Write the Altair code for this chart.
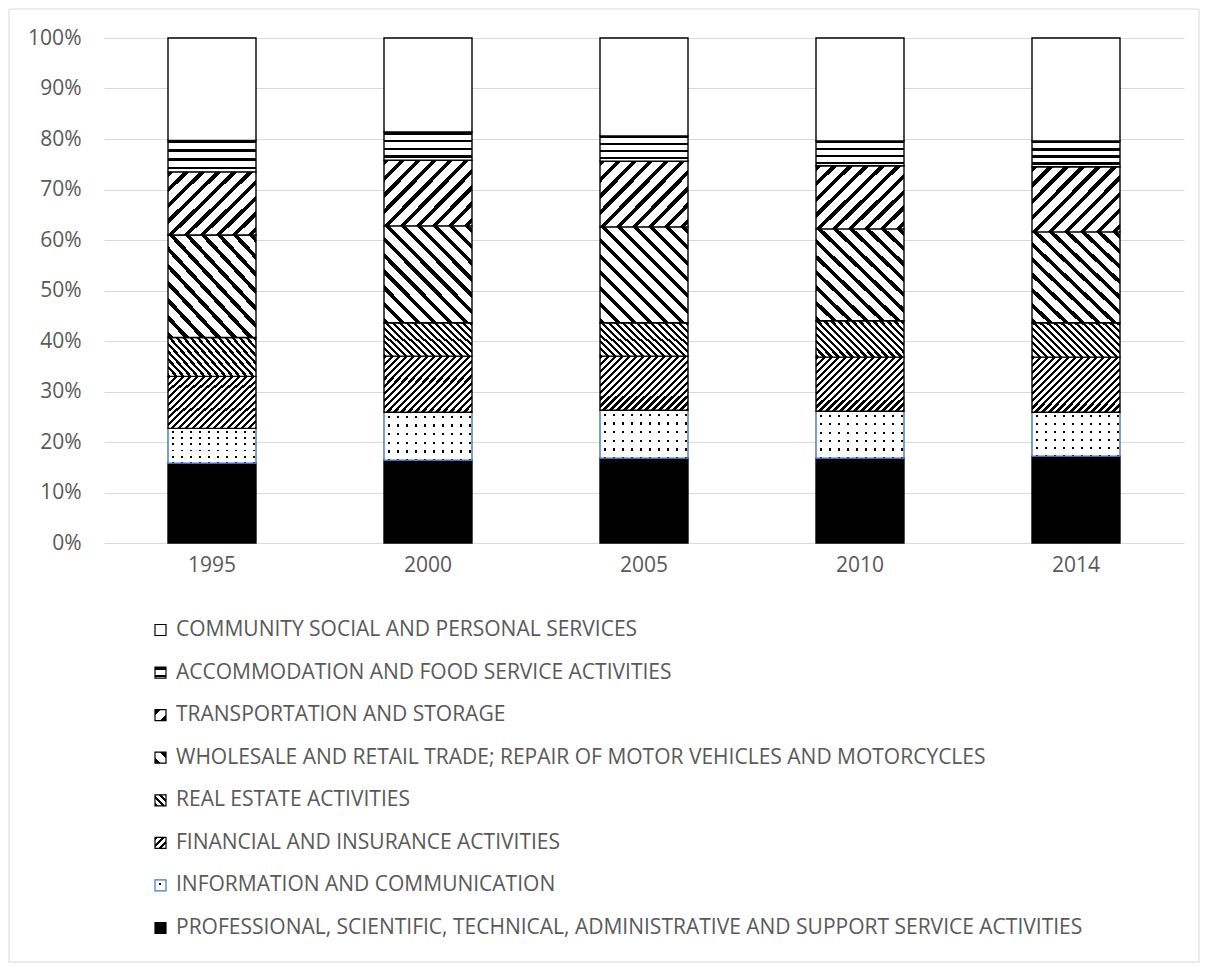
import altair as alt
import pandas as pd

# ---------------- data ----------------
years = ["1995", "2000", "2005", "2010", "2014"]
categories = [
    "PROFESSIONAL, SCIENTIFIC, TECHNICAL, ADMINISTRATIVE AND SUPPORT SERVICE ACTIVITIES",
    "INFORMATION AND COMMUNICATION",
    "FINANCIAL AND INSURANCE ACTIVITIES",
    "REAL ESTATE ACTIVITIES",
    "WHOLESALE AND RETAIL TRADE; REPAIR OF MOTOR VEHICLES AND MOTORCYCLES",
    "TRANSPORTATION AND STORAGE",
    "ACCOMMODATION AND FOOD SERVICE ACTIVITIES",
    "COMMUNITY SOCIAL AND PERSONAL SERVICES",
]
professional = [15.8, 16.4, 16.8, 16.8, 17.2]
information = [6.9, 9.5, 9.5, 9.3, 8.7]
financial = [10.3, 11.1, 10.7, 10.7, 10.9]
real_estate = [7.7, 6.6, 6.6, 7.2, 6.8]
wholesale = [20.3, 19.2, 19.0, 18.2, 18.0]
transport = [12.5, 13.0, 13.0, 12.5, 12.9]
accommodation = [6.2, 5.6, 5.0, 4.9, 5.1]
community = [20.3, 18.6, 19.4, 20.4, 20.4]
series = [professional, information, financial, real_estate,
          wholesale, transport, accommodation, community]
y_ticks = [i / 10 for i in range(11)]

rows = []
for order, (cat, vals) in enumerate(zip(categories, series)):
    for yr, v in zip(years, vals):
        rows.append({"year": yr, "cat": cat, "value": v, "order": order})
df = pd.DataFrame(rows)
legend_df = pd.DataFrame({"cat": categories, "order": list(range(len(categories)))})
legend_order = list(reversed(categories))

# ---------------- styling ----------------
PLOT_W, PLOT_H = 1080, 505
STEP = PLOT_W / len(years)
BAR_W = 88
PAD_IN = 1 - BAR_W / STEP
FONT = "Open Sans, sans-serif"
TXT = "#595959"
GRID = "#d9d9d9"
BLACK, WHITE, CLEAR = "#000000", "#ffffff", "rgba(255,255,255,0)"
BLUE = "#4472C4"
FS = 21


def band_stops(n, duty, on=BLACK, off=WHITE, phase=0.0):
    stops = [{"offset": 0.0, "color": off}]
    k = -1
    while True:
        a = (k + phase) / n
        b = (k + phase + duty) / n
        if a >= 1:
            break
        a, b = max(a, 0.0), min(b, 1.0)
        if b > a:
            a, b = round(a, 5), round(b, 5)
            stops += [{"offset": a, "color": off}, {"offset": a, "color": on},
                      {"offset": b, "color": on}, {"offset": b, "color": off}]
        k += 1
    stops.append({"offset": 1.0, "color": off})
    return stops


def diag(W, H, period, duty, up=True):
    c = (W + H) / (W * W + H * H)
    st = band_stops((W + H) / period, duty)
    if up:
        return {"gradient": "linear", "x1": 0, "y1": 0, "x2": W * c, "y2": H * c, "stops": st}
    return {"gradient": "linear", "x1": 0, "y1": 1, "x2": W * c, "y2": 1 - H * c, "stops": st}


def hstripes(H, period, duty, phase=0.0):
    return {"gradient": "linear", "x1": 0, "y1": 0, "x2": 0, "y2": 1,
            "stops": band_stops(H / period, duty, phase=phase)}


def vcols(W, period, duty, phase=0.0):
    return {"gradient": "linear", "x1": 0, "y1": 0, "x2": 1, "y2": 0,
            "stops": band_stops(W / period, duty, on=CLEAR, off=WHITE, phase=phase)}


def fills(idx, W, H):
    """Return list of (fill, stroke) layers for category idx."""
    if idx == 0:
        return [(BLACK, BLACK)]
    if idx == 1:
        return [(hstripes(H, 8, 0.26, phase=0.4), None), (vcols(W, 9, 0.24, phase=0.4), BLUE)]
    if idx == 2:
        return [(diag(W, H, 7, 0.45, up=True), BLACK)]
    if idx == 3:
        return [(diag(W, H, 7, 0.45, up=False), BLACK)]
    if idx == 4:
        return [(diag(W, H, 16, 0.34, up=False), BLACK)]
    if idx == 5:
        return [(diag(W, H, 16, 0.34, up=True), BLACK)]
    if idx == 6:
        return [(hstripes(H, 7.5, 0.33), BLACK)]
    return [(WHITE, BLACK)]


x_enc = alt.X("year:N", sort=years, title=None,
              scale=alt.Scale(domain=years, paddingInner=PAD_IN, paddingOuter=PAD_IN / 2),
              axis=alt.Axis(labelAngle=0, domain=False, ticks=False, tickSize=0,
                            labelPadding=11, grid=False))
y_scale = alt.Scale(domain=[0, 1], nice=False, zero=True)
y_axis = alt.Axis(values=y_ticks, format=".0%", domain=False, ticks=False, tickSize=0,
                  labelPadding=23, grid=True, gridColor=GRID, gridWidth=1)

bar_layers = []
for idx, cat in enumerate(categories):
    H = sum(series[idx]) / len(series[idx]) / 100 * PLOT_H
    for fill, stroke in fills(idx, BAR_W, H):
        mk = dict(fill=fill, strokeWidth=1.4)
        if stroke:
            mk["stroke"] = stroke
        layer = (
            alt.Chart(df)
            .transform_stack(stack="value", groupby=["year"], as_=["y0", "y1"],
                             sort=[alt.SortField("order", "ascending")], offset="normalize")
            .transform_filter(alt.datum.cat == cat)
            .mark_bar(**mk)
            .encode(x=x_enc,
                    y=alt.Y("y0:Q", scale=y_scale, axis=y_axis, title=None),
                    y2="y1:Q")
        )
        bar_layers.append(layer)

bars = alt.layer(*bar_layers)

# ---------------- legend ----------------
leg_y = alt.Y("cat:N", scale=alt.Scale(type="point", domain=legend_order, range=[592, 890], padding=0),
              axis=None, title=None)
legend_layers = []
for idx, cat in enumerate(categories):
    for fill, stroke in fills(idx, 11, 11):
        mk = dict(fill=fill, shape="square", size=121, strokeWidth=1.2, opacity=1, filled=True)
        if stroke:
            mk["stroke"] = stroke
        legend_layers.append(
            alt.Chart(legend_df)
            .transform_filter(alt.datum.cat == cat)
            .mark_point(**mk)
            .encode(x=alt.value(56.5), y=leg_y)
        )
legend_text = (
    alt.Chart(legend_df)
    .mark_text(align="left", baseline="middle", fontSize=FS, font=FONT, color=TXT)
    .encode(x=alt.value(72), y=leg_y, text="cat:N")
)
border = (
    alt.Chart(pd.DataFrame({"k": [0]}))
    .mark_rect(fill="transparent", stroke=GRID, strokeWidth=1)
    .encode(x=alt.value(-95), x2=alt.value(1095), y=alt.value(-29), y2=alt.value(924))
)
legend = alt.layer(border, *legend_layers, legend_text)

chart = (
    alt.layer(bars, legend)
    .resolve_scale(y="independent")
    .properties(width=PLOT_W, height=PLOT_H,
                padding={"left": 96, "top": 30, "right": 16, "bottom": 421},
                autosize=alt.AutoSizeParams(type="none"))
    .configure_view(stroke=None)
    .configure_axis(labelFont=FONT, labelFontSize=FS, labelColor=TXT)
)

chart.save("out.html", embed_options={"renderer": "svg", "actions": False})
